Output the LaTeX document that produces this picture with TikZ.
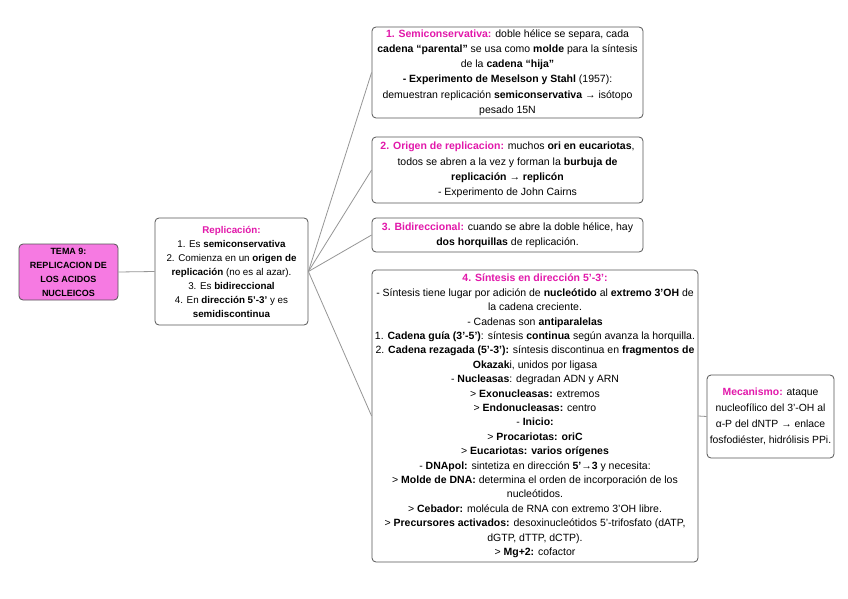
\documentclass[tikz,border=0pt]{standalone}
\usepackage{fontspec}
\setmainfont{Liberation Sans}
\definecolor{mag}{RGB}{226,24,170}
\definecolor{pinkfill}{RGB}{246,122,226}
\definecolor{edge}{RGB}{85,85,85}
\definecolor{conn}{RGB}{150,150,150}
\begin{document}
\begin{tikzpicture}[x=1pt,y=-1pt,
  box/.style={draw=edge,line width=0.8pt,rounded corners=4pt,fill=white,align=center,inner sep=0pt,
    font=\fontsize{10.5}{15.2}\selectfont},
  conline/.style={draw=conn,line width=0.8pt}]
\useasboundingbox[fill=white] (0,0) rectangle (848,599);
\newcommand{\mg}[1]{\textcolor{mag}{\textbf{#1}}}
\node[box,fill=pinkfill,minimum width=99pt,minimum height=56pt,font=\fontsize{9}{14}\selectfont\bfseries] (title) at (68.5,272)
 {TEMA 9:\\REPLICACION DE\\LOS ACIDOS\\NUCLEICOS};
\node[box,minimum width=153pt,minimum height=107pt,font=\fontsize{9.8}{14}\selectfont] (repl) at (231.5,271.5)
 {\mg{Replicación:}\\1. Es \textbf{semiconservativa}\\2. Comienza en un \textbf{origen de}\\\textbf{replicación} (no es al azar).\\3. Es \textbf{bidireccional}\\4. En \textbf{dirección 5’-3’} y es\\\textbf{semidiscontinua}};
\node[box,minimum width=271pt,minimum height=91pt] (b1) at (507.5,72.5)
 {\mg{1. Semiconservativa:} doble hélice se separa, cada\\\textbf{cadena “parental”} se usa como \textbf{molde} para la síntesis\\de la \textbf{cadena “hija”}\\\textbf{- Experimento de Meselson y Stahl} (1957):\\demuestran replicación \textbf{semiconservativa} → isótopo\\pesado 15N};
\node[box,minimum width=271pt,minimum height=66pt] (b2) at (507.5,170)
 {\mg{2. Origen de replicacion:} muchos \textbf{ori en eucariotas},\\todos se abren a la vez y forman la \textbf{burbuja de}\\\textbf{replicación → replicón}\\- Experimento de John Cairns};
\node[box,minimum width=271pt,minimum height=34pt] (b3) at (507.5,235)
 {\mg{3. Bidireccional:} cuando se abre la doble hélice, hay\\\textbf{dos horquillas} de replicación.};
\node[box,minimum width=326pt,minimum height=292pt,font=\fontsize{10.5}{14.4}\selectfont] (b4) at (535,416)
 {\mg{4. Síntesis en dirección 5’-3’:}\\
 - Síntesis tiene lugar por adición de \textbf{nucleótido} al \textbf{extremo 3’OH} de\\
 la cadena creciente.\\
 - Cadenas son \textbf{antiparalelas}\\
 1. \textbf{Cadena guía (3’-5’)}: síntesis \textbf{continua} según avanza la horquilla.\\
 2. \textbf{Cadena rezagada (5’-3’):} síntesis discontinua en \textbf{fragmentos de}\\
 \textbf{Okazak}i, unidos por ligasa\\
 - \textbf{Nucleasas}: degradan ADN y ARN\\
 > \textbf{Exonucleasas:} extremos\\
 > \textbf{Endonucleasas:} centro\\
 - \textbf{Inicio:}\\
 > \textbf{Procariotas: oriC}\\
 > \textbf{Eucariotas: varios orígenes}\\
 - \textbf{DNApol:} sintetiza en dirección \textbf{5’→3} y necesita:\\
 > \textbf{Molde de DNA:} determina el orden de incorporación de los\\
 nucleótidos.\\
 > \textbf{Cebador:} molécula de RNA con extremo 3’OH libre.\\
 > \textbf{Precursores activados:} desoxinucleótidos 5’-trifosfato (dATP,\\
 dGTP, dTTP, dCTP).\\
 > \textbf{Mg+2:} cofactor};
\node[box,minimum width=127pt,minimum height=83pt,font=\fontsize{10.4}{15.8}\selectfont] (mec) at (770.5,416.5)
 {\mg{Mecanismo:} ataque\\nucleofílico del 3’-OH al\\α-P del dNTP → enlace\\fosfodiéster, hidrólisis PPi.};
\draw[conline] (title.east) -- (repl.west);
\foreach \b in {b1,b2,b3,b4}{\draw[conline] (repl.east) -- (\b.west);}
\draw[conline] (b4.east) -- (mec.west);
\end{tikzpicture}
\end{document}
